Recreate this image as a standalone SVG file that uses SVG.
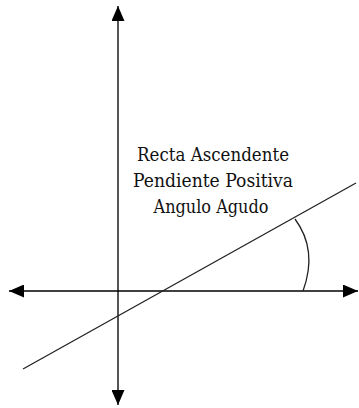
<svg xmlns="http://www.w3.org/2000/svg" width="359" height="408" viewBox="0 0 359 408">
<style>
.ax{stroke:#000;stroke-width:1.5;fill:none}
.axv{stroke:#555;stroke-width:2;fill:none}
.ln{stroke:#222;stroke-width:1.3;fill:none}
.lbl{font-family:'DejaVu Serif',serif;font-size:19px;fill:#111;text-anchor:middle}
</style>
<defs>
<marker id="ah" markerUnits="userSpaceOnUse" markerWidth="15" markerHeight="13" refX="15" refY="6.5" orient="auto">
<path d="M0,0 L15,6.5 L0,13 Z" fill="#000"/>
</marker>
</defs>
<rect width="359" height="408" fill="#fff"/>
<g id="connectors">
<line class="axv" x1="118" y1="200" x2="118" y2="6" marker-end="url(#ah)"/>
<line class="axv" x1="118" y1="200" x2="118" y2="405" marker-end="url(#ah)"/>
<line class="ax" x1="180" y1="291" x2="9" y2="291" marker-end="url(#ah)"/>
<line class="ax" x1="180" y1="291" x2="358" y2="291" marker-end="url(#ah)"/>
<line class="ln" x1="23" y1="369" x2="356" y2="183"/>
<path class="ln" d="M295 219 Q318 250 303 291"/>
</g>
<g id="label">
<text class="lbl" x="213" y="161" textLength="152" lengthAdjust="spacingAndGlyphs">Recta Ascendente</text>
<text class="lbl" x="213" y="187" textLength="160" lengthAdjust="spacingAndGlyphs">Pendiente Positiva</text>
<text class="lbl" x="211" y="213" textLength="115" lengthAdjust="spacingAndGlyphs">Angulo Agudo</text>
</g>
</svg>
